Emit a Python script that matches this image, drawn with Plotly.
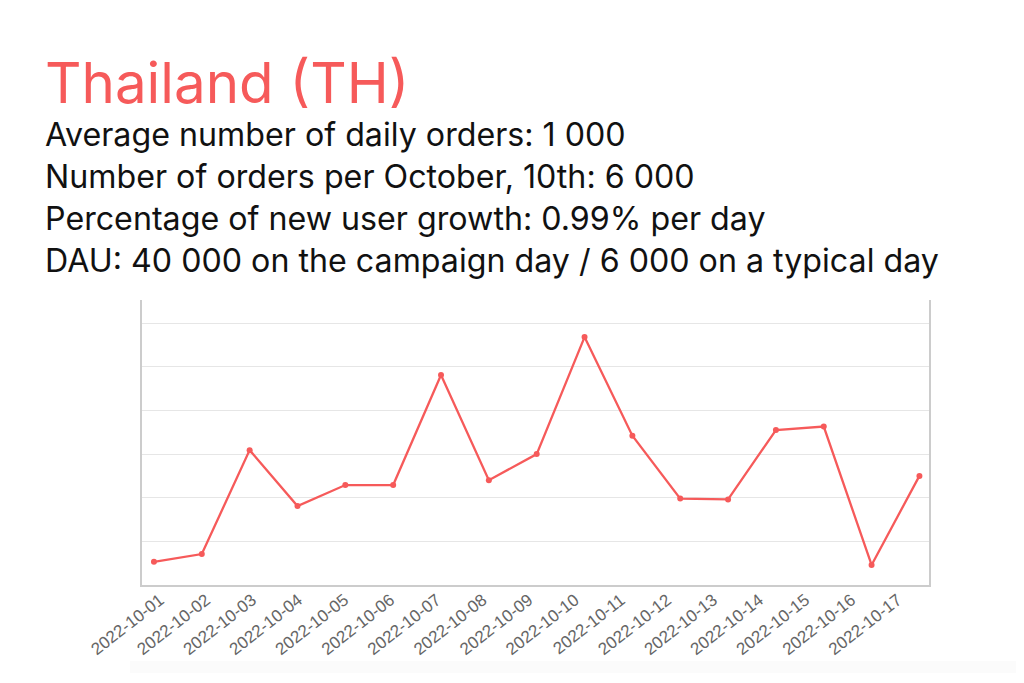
import plotly.graph_objects as go

dates = ['2022-10-01', '2022-10-02', '2022-10-03', '2022-10-04', '2022-10-05',
         '2022-10-06', '2022-10-07', '2022-10-08', '2022-10-09', '2022-10-10',
         '2022-10-11', '2022-10-12', '2022-10-13', '2022-10-14', '2022-10-15',
         '2022-10-16', '2022-10-17']
orders = [530, 710, 3090, 1810, 2290, 2290, 4810, 2400, 3000, 5680,
          3420, 1980, 1960, 3550, 3630, 460, 2500]

title = 'Thailand (TH)'
info_lines = [
    'Average number of daily orders: 1 000',
    'Number of orders per October, 10th: 6 000',
    'Percentage of new user growth: 0.99% per day',
    'DAU: 40 000 on the campaign day / 6 000 on a typical day',
]

red = '#F65A5A'

fig = go.Figure()
fig.add_trace(go.Scatter(
    x=dates, y=orders, mode='lines+markers',
    line=dict(color=red, width=2.3),
    marker=dict(color=red, size=6),
    hoverinfo='x+y',
))
# hidden trace that carries the tick labels (they sit a bit tighter than the points)
fig.add_trace(go.Scatter(
    x=list(range(len(dates))), y=orders, xaxis='x2', mode='markers',
    marker=dict(opacity=0), hoverinfo='skip',
))

# page body has an 8px margin; plot area on the page spans x 142..929, y 300..585
OFF = 8
W, H = 1024 - OFF * 2, 683 - OFF * 2
L, T = 142 - OFF, 300 - OFF
R, B = W - (929 - OFF), H - (585 - OFF)
pw, ph = W - L - R, H - T - B


def px_x(x):
    return (x - OFF - L) / pw


def px_y(y):
    return (H - B - (y - OFF)) / ph


annotations = [dict(
    text=title, x=px_x(43), y=px_y(82), xref='paper', yref='paper',
    xanchor='left', yanchor='middle', showarrow=False,
    font=dict(family='Inter', size=56.5, color=red),
)]
for i, line in enumerate(info_lines):
    annotations.append(dict(
        text=line, x=px_x(43), y=px_y(134 + 42 * i), xref='paper', yref='paper',
        xanchor='left', yanchor='middle', showarrow=False,
        font=dict(family='Inter', size=32.2, color='#111111'),
    ))

# faint shadow band near the bottom edge
shapes = [dict(type='rect', xref='paper', yref='paper',
               x0=px_x(130), x1=px_x(1030), y0=px_y(673), y1=px_y(661),
               line=dict(width=0), fillcolor='rgba(0,0,0,0.015)', layer='below')]

label_step = 46.1
fig.update_layout(
    width=W, height=H,
    margin=dict(l=L, r=R, t=T, b=B),
    paper_bgcolor='white', plot_bgcolor='white',
    showlegend=False,
    annotations=annotations,
    shapes=shapes,
    xaxis=dict(
        type='category', range=[-0.25, 16.2],
        showticklabels=False,
        showgrid=False, showline=True, linecolor='#cccccc', linewidth=1.5,
        mirror=False, ticks='',
    ),
    xaxis2=dict(
        overlaying='x', side='bottom',
        range=[-18 / label_step, -18 / label_step + pw / label_step],
        tickvals=list(range(len(dates))), ticktext=dates,
        tickangle=-38, tickfont=dict(family='Liberation Sans', size=17, color='#666666'),
        showgrid=False, showline=False, zeroline=False, ticks='',
        ticklabelstandoff=1,
    ),
    yaxis=dict(
        range=[0, 6530], dtick=1000, showticklabels=False,
        gridcolor='#e6e6e6', gridwidth=1, zeroline=False,
        showline=True, linecolor='#cccccc', linewidth=1.5, mirror=True,
        ticks='',
    ),
)

fig.write_html('out.html')
